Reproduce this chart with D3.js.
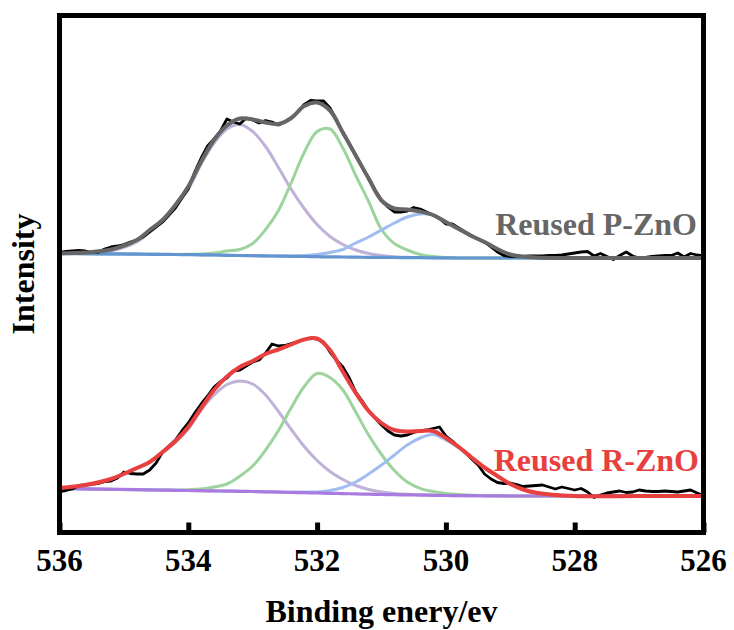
<!DOCTYPE html>
<html>
<head>
<meta charset="utf-8">
<script src="https://cdn.jsdelivr.net/npm/d3@7"></script>
<style>
  body { margin: 0; background: #fff; }
  text { font-family: "Liberation Serif", "Times New Roman", serif; font-weight: bold; }
</style>
</head>
<body>
<svg id="chart" width="734" height="630"></svg>
<script>
// ---- data (intensity in arbitrary units, curves already stacked) ----
var xTicks = [536, 534, 532, 530, 528, 526];

// raw spectra: one point every 0.1 eV from 536 down to 526
var rawStart = 536, rawStep = 0.1;
var rawP = [280, 281, 281.5, 282, 281.5, 280, 280, 283.5, 285.5, 286.5,
  288, 290.5, 292.5, 295.5, 300.5, 305.5, 310.5, 317.5, 324.5, 334.5,
  343.5, 360.5, 374.5, 386.5, 393.5, 401.5, 413.5, 410.5, 408.5, 414.5,
  412.5, 409.5, 412, 410.5, 407.5, 410.5, 414.5, 420.5, 428, 432,
  431.5, 431.5, 424.5, 412.5, 399.5, 388.5, 377.5, 365.5, 354.5, 342.5,
  332.5, 325.5, 320.5, 320.5, 321.5, 325, 323.5, 320.5, 317.5, 314,
  308.5, 308.5, 304.5, 300.5, 296.5, 293.5, 290.5, 285.5, 280.5, 277,
  276, 276, 276, 276.5, 276.5, 276.5, 277, 277, 277.5, 278.5,
  279.5, 280.5, 281, 276.5, 279, 276, 273, 277, 280.5, 276.5,
  274.5, 275, 276, 276.5, 277, 277, 279.5, 275.5, 279, 277.5, 276.5];
var rawR = [41, 42, 43.5, 47, 47.5, 48.5, 49, 50.8, 51.5, 54.5,
  60.5, 59, 58.5, 58.5, 62.5, 69.5, 80.5, 86.5, 92.5, 101.5,
  109.5, 119.5, 128.5, 136.5, 145.5, 151, 154.5, 161.5, 162.5, 166.5,
  170.5, 172.5, 179.5, 188.5, 186.5, 187, 189, 191, 193, 194.5,
  193.5, 190.5, 180.5, 172.5, 165.5, 154.5, 140.5, 131.5, 121.5, 114.5,
  107.5, 101.5, 97.5, 96.5, 97.5, 100, 101.5, 102.5, 104, 105.5,
  96.5, 91.5, 85.5, 80.5, 73.5, 67.5, 58.5, 53.5, 50, 49,
  49.5, 48, 46, 46.5, 47, 47.5, 45.5, 43.5, 45.5, 44,
  42.5, 44, 40.5, 35, 37.5, 39.5, 40.5, 41.5, 40, 40.5,
  42.5, 41.5, 41, 41, 41.5, 41, 40.5, 41.5, 42.5, 39.5, 37];

// fitted curves, read at these energies
var fitE = [536, 535.6, 535.2, 534.8, 534.6, 534.4, 534.2, 534.0, 533.8, 533.6,
  533.4, 533.2, 533.0, 532.8, 532.6, 532.4, 532.2, 532.0, 531.8, 531.6,
  531.4, 531.2, 531.0, 530.8, 530.6, 530.4, 530.2, 530.0, 529.8, 529.6,
  529.4, 529.2, 529.0, 528.8, 528.6, 528.0, 527.0, 526.0];

// Reused P-ZnO
var baseP = [279, 278.8, 278.6, 278.4, 278.2, 278.1, 278, 277.9, 277.7, 277.5,
  277.2, 277, 276.8, 276.6, 276.4, 276.2, 276, 275.8, 275.6, 275.5,
  275.3, 275.2, 275.1, 275, 274.9, 274.8, 274.7, 274.6, 274.5, 274.5,
  274.5, 274.5, 274.5, 274.5, 274.5, 274.5, 274.5, 274.5];
var peak1P = [279, 279.3, 281.5, 290.5, 300.5, 310.5, 325.5, 343.5, 368.5, 389.5,
  403.5, 408, 401, 386, 365, 343, 324, 308, 296, 288,
  282.5, 279, 277, 275.8, 275.2, 274.9, 274.7, 274.6, 274.5, 274.5,
  274.5, 274.5, 274.5, 274.5, 274.5, 274.5, 274.5, 274.5];
var peak2P = [279, 278.8, 278.6, 278.4, 278.2, 278.1, 278, 278.2, 278.5, 279.5,
  281.5, 283, 289, 303, 322, 350, 380, 401, 403.5, 384.5,
  357, 331, 303, 289, 282.5, 278, 276, 275, 274.6, 274.5,
  274.5, 274.5, 274.5, 274.5, 274.5, 274.5, 274.5, 274.5];
var peak3P = [279, 278.8, 278.6, 278.4, 278.2, 278.1, 278, 277.9, 277.7, 277.5,
  277.2, 277, 276.8, 276.6, 276.5, 276.5, 277, 278, 280, 283,
  289.5, 295.5, 302.5, 309.5, 315.5, 318.5, 317.5, 310, 303, 296,
  290, 283, 278, 276, 275, 274.5, 274.5, 274.5];
var envP = [279, 280, 283, 292.5, 302.5, 312.5, 327.5, 346, 371, 392.5,
  407, 414, 413, 410, 408.5, 414.5, 426.5, 430, 422, 400,
  377, 354, 332, 324, 323, 321, 317.5, 310.5, 303.5, 296.5,
  290.5, 283.5, 278, 276, 275, 274.5, 274.5, 274.5];

// Reused R-ZnO
var baseR = [44, 43.6, 43.2, 42.8, 42.6, 42.4, 42.2, 42, 41.8, 41.6,
  41.4, 41.2, 41, 40.7, 40.4, 40.1, 39.8, 39.5, 39.2, 38.9,
  38.6, 38.3, 38, 37.8, 37.6, 37.4, 37.2, 37, 36.9, 36.8,
  36.7, 36.6, 36.5, 36.5, 36.5, 36.5, 36.5, 36.5];
var peak1R = [44.2, 47, 53, 64, 70, 79.5, 90, 103.5, 122.5, 137.5,
  148, 151.5, 148.5, 137.5, 121, 103, 86, 72, 61, 53,
  47, 43, 40.5, 39, 38.2, 37.7, 37.4, 37.1, 36.9, 36.8,
  36.7, 36.6, 36.5, 36.5, 36.5, 36.5, 36.5, 36.5];
var peak2R = [44, 43.6, 43.2, 42.8, 42.6, 42.4, 42.5, 42.8, 43.5, 45.5,
  48.5, 56.3, 66.5, 82.5, 102, 125, 146, 159, 155, 142.5,
  120.5, 97.5, 78, 62, 50.5, 44.2, 41, 39, 37.9, 37.3,
  36.9, 36.7, 36.5, 36.5, 36.5, 36.5, 36.5, 36.5];
var peak3R = [44, 43.6, 43.2, 42.8, 42.6, 42.4, 42.2, 42, 41.8, 41.6,
  41.4, 41.2, 41, 40.7, 40.4, 40.3, 40.5, 40.5, 42, 45,
  50.5, 58.5, 67.5, 77.5, 87.5, 94.5, 98, 92.5, 84.5, 74.5,
  64.8, 56.5, 48.5, 43, 39.8, 36.5, 36.5, 36.5];
var envR = [44.5, 47.5, 53.5, 64.5, 70.5, 80.5, 91.5, 105.5, 124.5, 142.5,
  156, 165.5, 171.5, 178.5, 183, 188, 193, 194, 182.5, 160.8,
  139.5, 121.5, 109.5, 102.5, 101, 101.5, 101.5, 94.5, 85.5, 75,
  65, 56.5, 48.5, 43, 39.8, 36.5, 36.5, 36.5];

var labels = ["Reused P-ZnO", "Reused R-ZnO"];

// ---- drawing ----
var svg = d3.select("#chart");
// plot box (note: "top" is taken by window.top, so use other names)
var plotL = 59.5, plotR = 703.5, plotT = 15.5, plotB = 532.5;

var x = d3.scaleLinear().domain([536, 526]).range([plotL, plotR]);
var y = d3.scaleLinear().domain([0, 517]).range([plotB, plotT]);

var g = svg.append("g");

function pairs(ys) { return ys.map(function (v, i) { return [fitE[i], v]; }); }
function rawPairs(ys) { return ys.map(function (v, i) { return [rawStart - i * rawStep, v]; }); }

var smooth = d3.line()
    .x(function (d) { return x(d[0]); })
    .y(function (d) { return y(d[1]); })
    .curve(d3.curveCatmullRom.alpha(0.5));
var straight = d3.line()
    .x(function (d) { return x(d[0]); })
    .y(function (d) { return y(d[1]); });

function drawLine(data, gen, color, width) {
    g.append("path")
        .attr("d", gen(data))
        .attr("fill", "none")
        .attr("stroke", color)
        .attr("stroke-width", width)
        .attr("stroke-linejoin", "round")
        .attr("stroke-linecap", "round");
}

// top spectrum
drawLine(pairs(peak1P), smooth, "#c0b1d9", 3);
drawLine(pairs(peak2P), smooth, "#9dd49d", 3);
drawLine(pairs(peak3P), smooth, "#9fbdf0", 3);
drawLine(pairs(baseP), smooth, "#6396d0", 3.2);
drawLine(rawPairs(rawP), straight, "#000", 2.8);
drawLine(pairs(envP), smooth, "#666666", 4);

// bottom spectrum
drawLine(pairs(peak1R), smooth, "#c0b1d9", 3);
drawLine(pairs(peak2R), smooth, "#9dd49d", 3);
drawLine(pairs(peak3R), smooth, "#9fbdf0", 3);
drawLine(pairs(baseR), smooth, "#a97be0", 3.2);
drawLine(rawPairs(rawR), straight, "#000", 2.8);
drawLine(pairs(envR), smooth, "#e8403f", 4);

// labels
svg.append("text").attr("x", 697).attr("y", 235)
    .attr("text-anchor", "end").attr("font-size", 32).attr("fill", "#666666")
    .text(labels[0]);
svg.append("text").attr("x", 699).attr("y", 471)
    .attr("text-anchor", "end").attr("font-size", 32).attr("fill", "#e8403f")
    .text(labels[1]);

// x axis: tick marks from d3.axisBottom (pointing inward), numbers drawn as plain text
var xAxis = svg.append("g")
    .attr("transform", "translate(0," + plotB + ")")
    .call(d3.axisBottom(x).tickValues(xTicks).tickSizeInner(-10).tickSizeOuter(0).tickFormat(""));
xAxis.select(".domain").remove();
xAxis.selectAll(".tick line").attr("stroke", "#000").attr("stroke-width", 5);

svg.append("g").selectAll("text")
    .data(xTicks)
    .enter().append("text")
    .attr("x", function (d) { return x(d); })
    .attr("y", plotB + 38.5)
    .attr("text-anchor", "middle")
    .attr("font-size", 31)
    .text(function (d) { return d; });

// frame
svg.append("rect")
    .attr("x", plotL).attr("y", plotT)
    .attr("width", plotR - plotL).attr("height", plotB - plotT)
    .attr("fill", "none").attr("stroke", "#000").attr("stroke-width", 5);

// axis titles
svg.append("text").attr("x", (plotL + plotR) / 2).attr("y", 622)
    .attr("text-anchor", "middle").attr("font-size", 32)
    .text("Binding enery/ev");
svg.append("text")
    .attr("transform", "translate(34," + ((plotT + plotB) / 2) + ") rotate(-90)")
    .attr("text-anchor", "middle").attr("font-size", 32)
    .text("Intensity");
</script>
</body>
</html>
